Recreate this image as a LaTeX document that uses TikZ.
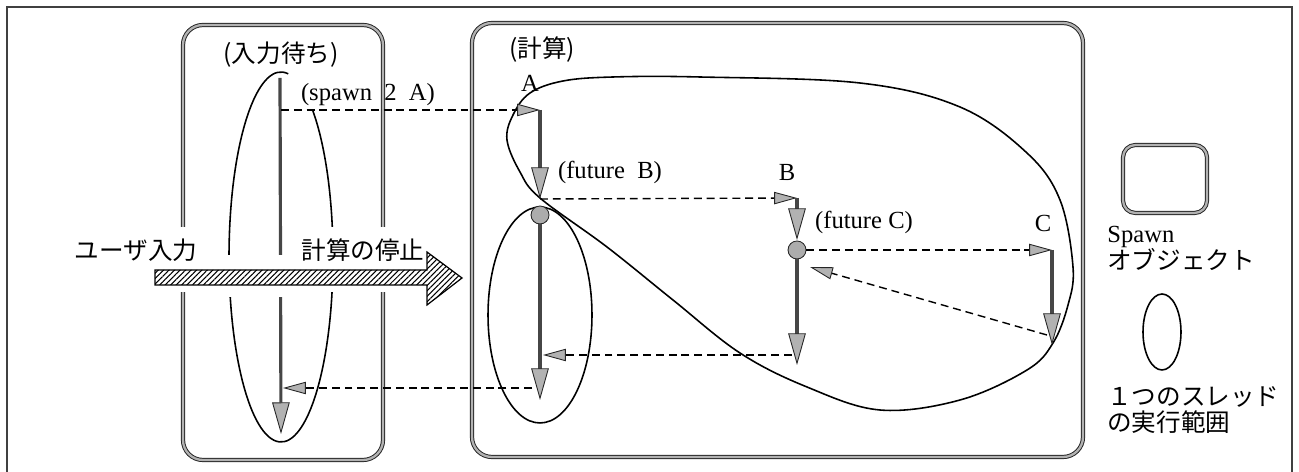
\documentclass[tikz,border=0pt]{standalone}
\usepackage{fontspec}
\setmainfont{Liberation Serif}
\newfontfamily\jp{Noto Sans CJK JP}
\usepackage{tikz}
\usetikzlibrary{arrows.meta, patterns.meta}

\begin{document}
\begin{tikzpicture}[x=0.02cm, y=0.02cm, font=\fontsize{14}{16}\selectfont,
  box/.style={draw=black!85, double=gray!60, line width=0.55pt, double distance=1.3pt, rounded corners=0.4cm},
  thread/.style={draw=gray!55!black, line width=1.8pt, -{Triangle[length=18pt, width=10pt, color=black!85, fill=gray!60, line width=0.5pt]}},
  call/.style={dash pattern=on 4.5pt off 2.8pt, line width=0.8pt, -{Triangle[length=13pt, width=7pt, color=black!85, fill=gray!60, line width=0.5pt]}},
  fut/.style={circle, draw=black!85, fill=gray!65, line width=0.5pt, minimum size=0.36cm, inner sep=0pt},
  extent/.style={line width=0.9pt}]
  \useasboundingbox (0,0) rectangle (1299,-472);
  \draw[draw=gray!50!black, line width=1pt] (7,-472) -- (7,-7) -- (1292,-7) -- (1292,-472);

  \draw[box] (183,-25) rectangle (383,-460);
  \draw[box] (472,-23) rectangle (1083,-457);

  \coordinate (w-top) at (280,-78);
  \coordinate (w-spawn) at (281,-110);
  \coordinate (w-ret) at (283,-388);
  \coordinate (w-end) at (281,-434);
  \coordinate (a-top) at (540,-110);
  \coordinate (a-fut) at (540,-199);
  \coordinate (a-ret) at (543,-355);
  \coordinate (a-back) at (532,-388);
  \coordinate (a-end) at (540,-400);
  \coordinate (b-top) at (797,-198);
  \coordinate (b-fut) at (797,-240);
  \coordinate (b-back) at (792,-355);
  \coordinate (b-hit) at (810,-267);
  \coordinate (b-end) at (797,-365);
  \coordinate (c-top) at (1052,-250);
  \coordinate (c-back) at (1047,-335);
  \coordinate (c-end) at (1052,-345);

  \draw[extent] ([shift={(82:1.04cm and 3.7cm)}]281,-257) arc[start angle=82, end angle=413, x radius=1.04cm, y radius=3.7cm];
  \draw[thread] (w-top) -- (w-end);

  \fill[white] (174,-227) rectangle (193,-292);
  \fill[white] (373,-227) rectangle (393,-292);
  \fill[white] (220,-255) rectangle (300,-297);
  \fill[white] (324,-227) rectangle (342,-292);

  \draw[pattern={Lines[angle=45, distance=2.2pt, line width=0.6pt]}, line width=0.7pt]
    (155,-270) -- (427,-270) -- (427,-252) -- (462,-278) -- (427,-305) -- (427,-285) -- (155,-285) -- cycle;
  \node (user) at (136,-250) {\jp ユーザ入力};
  \node (stop) at (363,-250) {\jp 計算の停止};
  \node (wait) at (281,-55) {\jp (入力待ち)};
  \node (calc) at (542,-50) {\jp (計算)};
  \node (spawn) at (368,-95) {(spawn~~2~~A)};

  \draw[extent] plot[smooth cycle, tension=0.6] coordinates {(540,-198) (520,-172) (507,-140) (513,-115) (530,-93) (563,-81) (613,-77) (700,-77) (860,-83) (960,-107) (1027,-153) (1060,-200) (1073,-267) (1068,-305) (1053,-343) (1027,-370) (960,-400) (880,-410) (807,-387) (740,-353) (673,-300) (607,-247)};
  \draw[extent] (540,-315) ellipse [x radius=1.04cm, y radius=2.16cm];

  \node[fut] (fa) at (540,-215) {};
  \node[fut] (fb) at (797,-250) {};
  \node (la) at (530,-83) {A};
  \node (lb) at (787,-172) {B};
  \node (lc) at (1043,-223) {C};
  \node (futb) at (610,-172) {(future~~B)};
  \node (futc) at (864,-222) {(future C)};

  \draw[call] (w-spawn) -- (a-top);
  \draw[thread] (a-top) -- (a-fut);
  \draw[thread] (fa) -- (a-end);
  \draw[call] (a-fut) -- (b-top);
  \draw[thread] (b-top) -- (b-fut);
  \draw[thread] (fb) -- (b-end);
  \draw[call] (fb) -- (c-top);
  \draw[thread] (c-top) -- (c-end);
  \draw[call] (c-back) -- (b-hit);
  \draw[call] (b-back) -- (a-ret);
  \draw[call] (a-back) -- (w-ret);

  \draw[box, rounded corners=0.25cm] (1123,-145) rectangle (1207,-213);
  \node[anchor=west, inner sep=0pt] (ls1) at (1107,-237) {Spawn};
  \node[anchor=west, inner sep=0pt] (ls2) at (1107,-260) {\jp オブジェクト};
  \draw[extent] (1162,-332) ellipse [x radius=0.38cm, y radius=0.76cm];
  \node[anchor=west, inner sep=0pt] (lt1) at (1107,-397) {\jp １つのスレッド};
  \node[anchor=west, inner sep=0pt] (lt2) at (1107,-422) {\jp の実行範囲};
\end{tikzpicture}
\end{document}
